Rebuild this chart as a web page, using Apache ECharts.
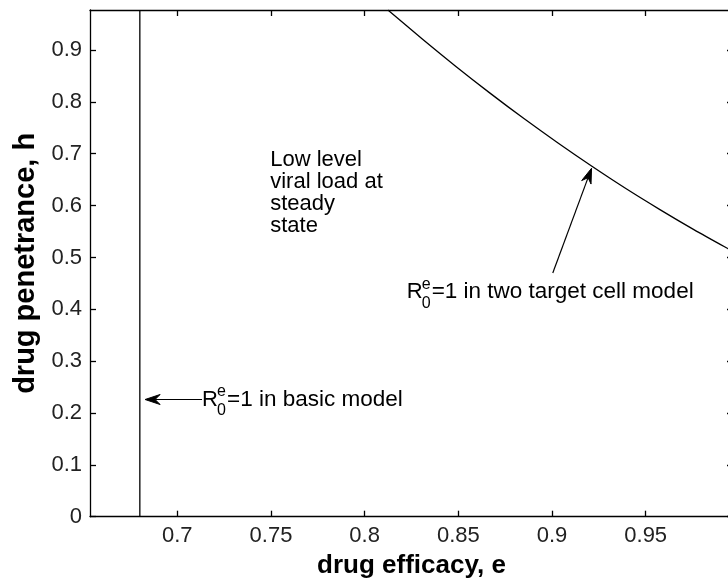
<!DOCTYPE html>
<html>
<head>
<meta charset="utf-8">
<script src="https://cdn.jsdelivr.net/npm/echarts@6/dist/echarts.min.js"></script>
<style>
  html, body { margin: 0; padding: 0; background: #fff; }
  #chart { width: 728px; height: 586px; }
</style>
</head>
<body>
<div id="chart"></div>
<script>
// Axis extents and tick values
const X_MIN = 0.6534, X_MAX = 0.9966;
const Y_MIN = 0, Y_MAX = 0.9772;
const xTicks = [0.7, 0.75, 0.8, 0.85, 0.9, 0.95];
const yTicks = [0, 0.1, 0.2, 0.3, 0.4, 0.5, 0.6, 0.7, 0.8, 0.9];

// R0e = 1 boundary, two target cell model (efficacy e, penetrance h)
const eCurve = [0.8124, 0.8306, 0.8487, 0.8669, 0.8850, 0.9032, 0.9213, 0.9394, 0.9576, 0.9757, 0.9933, 0.9966];
const hCurve = [0.9772, 0.9217, 0.8683, 0.8169, 0.7678, 0.7207, 0.6758, 0.6329, 0.5923, 0.5537, 0.5182, 0.5120];

// R0e = 1 boundary, basic model (critical efficacy)
const eBasic = 0.68;

// Annotation anchors in data coordinates
const arrowTail = [[0.7132, 0.226], [0.9004, 0.470]];
const arrowTip  = [[0.6828, 0.226], [0.9211, 0.672]];
const labelAt   = [[0.7132, 0.226], [0.8224, 0.433]];
const labelRest = ['=1 in basic model', '=1 in two target cell model'];
const regionAt  = [0.7496, 0.710];
const regionText = 'Low level\nviral load at\nsteady\nstate';

const FONT = '"Liberation Sans", Arial, Helvetica, sans-serif';
const INK = '#000';

const chart = echarts.init(document.getElementById('chart'), null, { renderer: 'canvas' });

function axisCommon(extra) {
  return Object.assign({
    type: 'value',
    splitLine: { show: false },
    axisLine: { show: true, onZero: false, lineStyle: { color: INK, width: 1.3 } },
    axisTick: { show: true, inside: true, length: 6, lineStyle: { color: INK, width: 1.3 } }
  }, extra);
}

function renderNotes(params, api) {
  const children = [];
  // arrows
  for (let i = 0; i < arrowTail.length; i++) {
    const a = api.coord(arrowTail[i]);
    const b = api.coord(arrowTip[i]);
    const dx = b[0] - a[0], dy = b[1] - a[1];
    const len = Math.hypot(dx, dy);
    const ux = dx / len, uy = dy / len;
    const px = -uy, py = ux;
    const L = 15, W = 5, N = 10;
    children.push({
      type: 'line',
      shape: { x1: a[0], y1: a[1], x2: b[0] - ux * N, y2: b[1] - uy * N },
      style: { stroke: INK, lineWidth: 1.2 }
    });
    children.push({
      type: 'polygon',
      shape: { points: [
        [b[0], b[1]],
        [b[0] - ux * L + px * W, b[1] - uy * L + py * W],
        [b[0] - ux * N, b[1] - uy * N],
        [b[0] - ux * L - px * W, b[1] - uy * L - py * W]
      ] },
      style: { fill: INK, stroke: INK, lineWidth: 1 }
    });
  }
  // R0e labels
  for (let i = 0; i < labelAt.length; i++) {
    const p = api.coord(labelAt[i]);
    const x = p[0], y = p[1];
    const base = { fill: INK, fontFamily: FONT, verticalAlign: 'middle', align: 'left' };
    children.push({ type: 'text', style: Object.assign({ text: 'R', x: x, y: y, fontSize: 22 }, base) });
    children.push({ type: 'text', style: Object.assign({ text: 'e', x: x + 15, y: y - 8, fontSize: 16 }, base) });
    children.push({ type: 'text', style: Object.assign({ text: '0', x: x + 15, y: y + 11, fontSize: 16 }, base) });
    children.push({ type: 'text', style: Object.assign({ text: labelRest[i], x: x + 25, y: y, fontSize: 22.5 }, base) });
  }
  // region note
  const r = api.coord(regionAt);
  children.push({
    type: 'text',
    style: {
      text: regionText, x: r[0], y: r[1], fill: INK, fontFamily: FONT,
      fontSize: 22, lineHeight: 22, align: 'left', verticalAlign: 'top'
    }
  });
  return { type: 'group', children: children };
}

chart.setOption({
  animation: false,
  backgroundColor: '#fff',
  textStyle: { fontFamily: FONT },
  grid: { left: 90, right: -5, top: 10, bottom: 69.3, containLabel: false, outerBoundsMode: 'none' },
  xAxis: [
    axisCommon({
      min: X_MIN, max: X_MAX, position: 'bottom',
      axisTick: { show: true, inside: true, length: 6, customValues: xTicks, lineStyle: { color: INK, width: 1.3 } },
      axisLabel: { customValues: xTicks, fontSize: 22, color: '#222', margin: 8, fontFamily: FONT },
      name: 'drug efficacy, e', nameLocation: 'middle', nameGap: 36,
      nameTextStyle: { fontSize: 26, fontWeight: 'bold', color: INK, fontFamily: FONT }
    }),
    axisCommon({
      min: X_MIN, max: X_MAX, position: 'top',
      axisTick: { show: true, inside: true, length: 6, customValues: xTicks, lineStyle: { color: INK, width: 1.3 } },
      axisLabel: { show: false }
    })
  ],
  yAxis: [
    axisCommon({
      min: Y_MIN, max: Y_MAX, position: 'left',
      axisTick: { show: true, inside: true, length: 6, customValues: yTicks, lineStyle: { color: INK, width: 1.3 } },
      axisLabel: { customValues: yTicks, fontSize: 22, color: '#222', margin: 8, fontFamily: FONT },
      name: 'drug penetrance, h', nameLocation: 'middle', nameGap: 48, nameRotate: 90,
      nameTextStyle: { fontSize: 29, fontWeight: 'bold', color: INK, fontFamily: FONT }
    }),
    axisCommon({
      min: Y_MIN, max: Y_MAX, position: 'right',
      axisTick: { show: true, inside: true, length: 6, customValues: yTicks, lineStyle: { color: INK, width: 1.3 } },
      axisLabel: { show: false }
    })
  ],
  series: [
    {
      type: 'line',
      data: eCurve.map((e, i) => [e, hCurve[i]]),
      showSymbol: false, smooth: 0.3, clip: true,
      lineStyle: { color: INK, width: 1.3 }
    },
    {
      type: 'line',
      data: [[eBasic, Y_MIN], [eBasic, Y_MAX]],
      showSymbol: false, clip: true,
      lineStyle: { color: INK, width: 1.3 }
    },
    {
      type: 'custom',
      data: [0],
      renderItem: renderNotes,
      silent: true,
      z: 5
    }
  ]
});
</script>
</body>
</html>
